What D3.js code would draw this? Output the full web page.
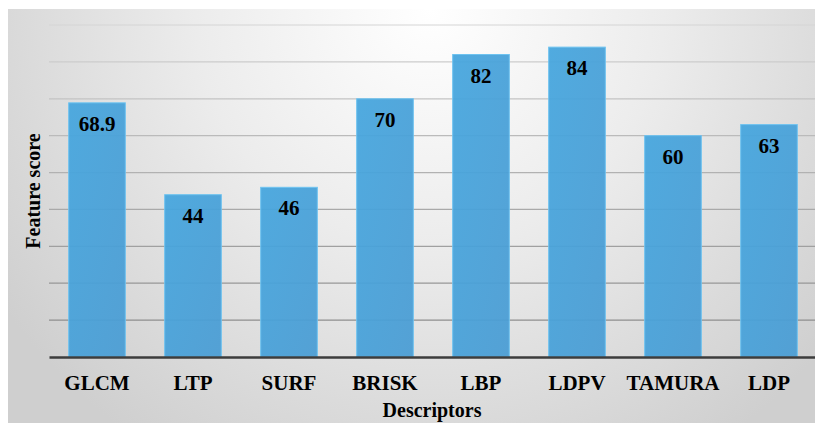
<!DOCTYPE html>
<html>
<head>
<meta charset="utf-8">
<script src="https://cdn.jsdelivr.net/npm/d3@7"></script>
<style>
  body { margin: 0; background: #fff; }
  text { font-family: "Liberation Serif", "Times New Roman", Times, serif; font-weight: bold; fill: #000; }
</style>
</head>
<body>
<svg width="815" height="425"></svg>
<script>
var descriptors = ["GLCM", "LTP", "SURF", "BRISK", "LBP", "LDPV", "TAMURA", "LDP"];
var scores = [68.9, 44, 46, 70, 82, 84, 60, 63];
var scoreLabels = ["68.9", "44", "46", "70", "82", "84", "60", "63"];
var gridValues = [10, 20, 30, 40, 50, 60, 70, 80, 90];

var svg = d3.select("svg"),
    margin = {top: 25, right: -2, bottom: 68, left: 49},
    width = svg.attr("width") - margin.left - margin.right,
    height = svg.attr("height") - margin.top - margin.bottom;

var defs = svg.append("defs");

// chart area background: light in the upper middle, grey at the edges
var bg = defs.append("radialGradient")
    .attr("id", "bg")
    .attr("gradientUnits", "userSpaceOnUse")
    .attr("cx", 430).attr("cy", 10).attr("r", 520);
bg.append("stop").attr("offset", "0%").attr("stop-color", "#ffffff");
bg.append("stop").attr("offset", "45%").attr("stop-color", "#ececec");
bg.append("stop").attr("offset", "100%").attr("stop-color", "#cfcfcf");

// gridlines look lighter at the top, darker near the axis
var gridGrad = defs.append("linearGradient")
    .attr("id", "gridGrad")
    .attr("gradientUnits", "userSpaceOnUse")
    .attr("x1", 0).attr("y1", 20).attr("x2", 0).attr("y2", 330);
gridGrad.append("stop").attr("offset", "0%").attr("stop-color", "#d6d6d6");
gridGrad.append("stop").attr("offset", "100%").attr("stop-color", "#8c8c8c");

var barGrad = defs.append("linearGradient")
    .attr("id", "barGrad")
    .attr("x1", 0).attr("y1", 0).attr("x2", 1).attr("y2", 1);
barGrad.append("stop").attr("offset", "0%").attr("stop-color", "#46a6de");
barGrad.append("stop").attr("offset", "100%").attr("stop-color", "#4b9dd4");

svg.append("rect")
    .attr("x", 8).attr("y", 9)
    .attr("width", 807).attr("height", 414)
    .attr("fill", "url(#bg)");

var x = d3.scaleBand()
    .domain(descriptors)
    .range([0, width])
    .paddingInner(0.41)
    .paddingOuter(0.205);

var y = d3.scaleLinear()
    .domain([0, 90])
    .range([height, 0]);

// gridlines (svg coords so the userSpace gradient lines up)
svg.append("g")
    .selectAll("line")
    .data(gridValues)
    .enter().append("line")
    .attr("x1", margin.left).attr("x2", margin.left + width)
    .attr("y1", function(d) { return margin.top + y(d); })
    .attr("y2", function(d) { return margin.top + y(d); })
    .attr("stroke", "url(#gridGrad)")
    .attr("stroke-width", 1.2);

var g = svg.append("g").attr("transform", "translate(" + margin.left + "," + margin.top + ")");

// bars
g.selectAll(".bar")
    .data(scores)
    .enter().append("rect")
    .attr("class", "bar")
    .attr("x", function(d, i) { return x(descriptors[i]); })
    .attr("y", function(d) { return y(d); })
    .attr("width", x.bandwidth())
    .attr("height", function(d) { return height - y(d); })
    .attr("fill", "url(#barGrad)")
    .attr("fill-opacity", 0.94)
    .attr("stroke", "#6ec3f0")
    .attr("stroke-width", 1);

// value labels inside the bars
g.selectAll(".value")
    .data(scores)
    .enter().append("text")
    .attr("class", "value")
    .attr("x", function(d, i) { return x(descriptors[i]) + x.bandwidth() / 2; })
    .attr("y", function(d) { return y(d) + 28; })
    .attr("text-anchor", "middle")
    .style("font-size", "21px")
    .text(function(d, i) { return scoreLabels[i]; });

// x axis
var xAxis = g.append("g")
    .attr("transform", "translate(0," + height + ")")
    .call(d3.axisBottom(x).tickSize(0).tickPadding(0));
xAxis.attr("font-family", null);
xAxis.select(".domain").attr("stroke", "#3c3c3c").attr("stroke-width", 2.5);
xAxis.selectAll(".tick text")
    .attr("dy", 0)
    .attr("y", 33)
    .style("font-size", "21px")
    .attr("fill", "#000");

// axis titles
svg.append("text")
    .attr("x", 432)
    .attr("y", 417)
    .attr("text-anchor", "middle")
    .style("font-size", "20px")
    .text("Descriptors");

svg.append("text")
    .attr("transform", "translate(40,191) rotate(-90)")
    .attr("text-anchor", "middle")
    .style("font-size", "20px")
    .text("Feature score");
</script>
</body>
</html>
